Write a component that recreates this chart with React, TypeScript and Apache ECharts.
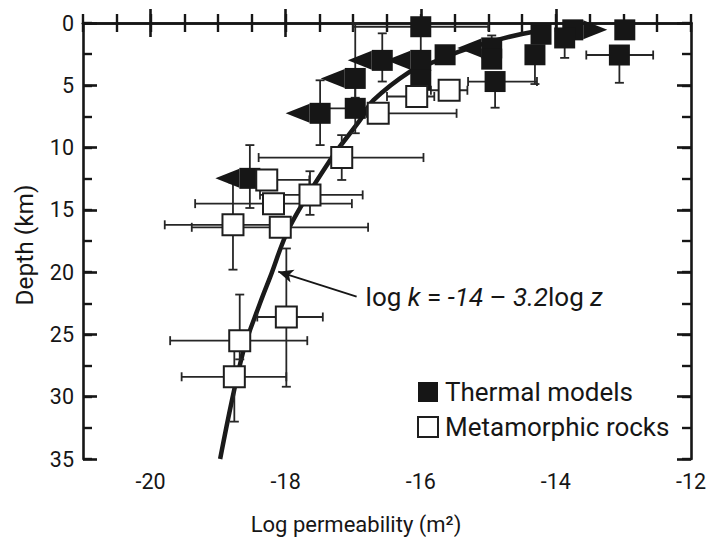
import React, { useEffect, useRef } from "react";
import * as echarts from "echarts";

// ---- data (log permeability [m^2], depth [km]) ----
const thermalPoints: [number, number][] = [
  [-16.0, 0.3],
  [-16.0, 3.0],
  [-16.57, 3.0],
  [-16.97, 4.45],
  [-17.49, 7.25],
  [-16.97, 6.85],
  [-16.0, 4.6],
  [-15.64, 2.55],
  [-14.95, 2.0],
  [-14.95, 2.9],
  [-14.9, 4.7],
  [-14.31, 2.55],
  [-14.22, 0.9],
  [-13.75, 0.55],
  [-13.87, 1.2],
  [-12.98, 0.55],
  [-13.06, 2.57],
  [-18.53, 12.47],
];
const thermalXErr: ([number, number] | null)[] = [
  [-17.0, -15.0], null, null, null, null, [-17.45, -16.7], null, null, null, null,
  [-15.3, -14.28], null, null, null, null, null, [-13.55, -12.56], null,
];
const thermalYErr: ([number, number] | null)[] = [
  null, [0.3, 3.0], [0.83, 4.7], [0.0, 6.0], [4.6, 9.8], [4.45, 8.85], null, null, [1.0, 2.9], null,
  [4.7, 6.8], [2.55, 4.9], null, null, [1.2, 2.8], null, [2.57, 4.8], [9.8, 14.85],
];
// "L" = upper-bound arrow (points left), "R" = lower-bound arrow (points right)
const thermalArrow: string[] = [
  "", "L", "L", "L", "L", "", "", "", "L", "", "", "", "", "R", "", "", "", "L",
];

const metaPoints: [number, number][] = [
  [-16.06, 5.9],
  [-15.58, 5.4],
  [-16.63, 7.25],
  [-17.17, 10.8],
  [-18.28, 12.6],
  [-17.64, 13.8],
  [-18.18, 14.5],
  [-18.78, 16.2],
  [-18.08, 16.4],
  [-17.99, 23.6],
  [-18.68, 25.5],
  [-18.76, 28.4],
];
const metaXErr: ([number, number] | null)[] = [
  [-16.5, -15.8], [-15.85, -15.31], [-16.8, -15.47], [-18.4, -15.96], [-18.6, -17.65],
  [-18.38, -16.86], [-19.34, -17.02], [-19.79, -18.2], [-19.39, -16.78], [-18.42, -17.45],
  [-19.71, -17.68], [-19.54, -17.99],
];
const metaYErr: ([number, number] | null)[] = [
  [5.2, 6.6], [4.8, 6.0], null, [9.0, 12.6], null, [11.9, 15.4], null, [12.8, 19.8],
  null, [18.1, 29.2], [21.8, 27.0], [25.5, 32.0],
];

// fitted curve log k = -14 - 3.2 log z
const curvePoints: [number, number][] = [
  [-14.1, 0.6], [-14.33, 0.7], [-14.78, 1.23], [-15.37, 2.17], [-15.86, 3.24], [-16.16, 3.9],
  [-16.7, 6.2], [-16.9, 7.8], [-17.34, 11.0], [-17.94, 16.35], [-18.23, 20.4], [-18.38, 22.5],
  [-18.63, 26.4], [-18.97, 35],
];

const annotationTail: [number, number] = [-16.95, 21.97];
const annotationHead: [number, number] = [-18.11, 19.96];

const xMajorTicks = [-20, -18, -16, -14];
const xTickLabels = [-20, -18, -16, -14, -12];

const FONT = "Roboto";
const INK = "#161616";

function errorRenderer(xErr: ([number, number] | null)[], yErr: ([number, number] | null)[]) {
  return (params: any, api: any) => {
    const i = params.dataIndex;
    const x = api.value(0);
    const y = api.value(1);
    const style = { stroke: "#262626", lineWidth: 1.8 };
    const cap = 4.5;
    const children: any[] = [];
    const xe = xErr[i];
    if (xe) {
      const a = api.coord([xe[0], y]);
      const b = api.coord([xe[1], y]);
      children.push({ type: "line", shape: { x1: a[0], y1: a[1], x2: b[0], y2: b[1] }, style });
      children.push({ type: "line", shape: { x1: a[0], y1: a[1] - cap, x2: a[0], y2: a[1] + cap }, style });
      children.push({ type: "line", shape: { x1: b[0], y1: b[1] - cap, x2: b[0], y2: b[1] + cap }, style });
    }
    const ye = yErr[i];
    if (ye) {
      const a = api.coord([x, ye[0]]);
      const b = api.coord([x, ye[1]]);
      children.push({ type: "line", shape: { x1: a[0], y1: a[1], x2: b[0], y2: b[1] }, style });
      children.push({ type: "line", shape: { x1: a[0] - cap, y1: a[1], x2: a[0] + cap, y2: a[1] }, style });
      children.push({ type: "line", shape: { x1: b[0] - cap, y1: b[1], x2: b[0] + cap, y2: b[1] }, style });
    }
    return { type: "group", children };
  };
}

export default function App() {
  const ref = useRef<HTMLDivElement>(null);
  useEffect(() => {
    if (!ref.current) return;
    const chart = echarts.init(ref.current, undefined, { renderer: "svg" });
    const frameLine = { show: true, lineStyle: { color: INK, width: 2.6 } };
    const longTick = { show: true, inside: true, length: 14, lineStyle: { color: INK, width: 2.6 } };
    const shortTick = { show: true, inside: true, length: 9, lineStyle: { color: INK, width: 2.4 } };
    const xBase = { type: "value", min: -21, max: -12, splitLine: { show: false }, gridIndex: 0 };
    const yBase = { type: "value", min: 0, max: 35, inverse: true, splitLine: { show: false }, gridIndex: 0 };

    const option: any = {
      animation: false,
      grid: { left: 83, top: 23, width: 608, height: 436, containLabel: false },
      xAxis: [
        {
          ...xBase, position: "bottom", axisLine: frameLine,
          axisTick: { ...longTick, customValues: xMajorTicks },
          axisLabel: { customValues: xTickLabels, color: INK, fontFamily: FONT, fontSize: 21.5, margin: 11 },
        },
        { ...xBase, position: "bottom", interval: 0.5, axisLine: { show: false }, axisTick: shortTick, axisLabel: { show: false } },
        {
          ...xBase, position: "top", axisLine: frameLine,
          axisTick: { ...longTick, customValues: xMajorTicks }, axisLabel: { show: false },
        },
        { ...xBase, position: "top", interval: 0.5, axisLine: { show: false }, axisTick: shortTick, axisLabel: { show: false } },
      ],
      yAxis: [
        {
          ...yBase, position: "left", interval: 5, axisLine: frameLine, axisTick: longTick,
          axisLabel: { color: INK, fontFamily: FONT, fontSize: 21.5, margin: 9 },
        },
        { ...yBase, position: "left", interval: 2.5, axisLine: { show: false }, axisTick: shortTick, axisLabel: { show: false } },
        { ...yBase, position: "right", interval: 5, axisLine: frameLine, axisTick: longTick, axisLabel: { show: false } },
        { ...yBase, position: "right", interval: 2.5, axisLine: { show: false }, axisTick: shortTick, axisLabel: { show: false } },
      ],
      legend: {
        data: [
          { name: "Thermal models", icon: "rect" },
          { name: "Metamorphic rocks", icon: "rect" },
        ],
        orient: "vertical",
        left: 417,
        top: 379,
        itemWidth: 20,
        itemHeight: 20,
        itemGap: 9,
        padding: 0,
        selectedMode: false,
        textStyle: { color: INK, fontFamily: FONT, fontSize: 26, padding: [0, 0, 0, 2] },
      },
      graphic: [
        {
          type: "text", x: 356, y: 524,
          style: { text: "Log permeability (m²)", fill: INK, font: `22px ${FONT}`, textAlign: "center", textVerticalAlign: "middle" },
        },
        {
          type: "text", x: 24, y: 245, rotation: Math.PI / 2,
          style: { text: "Depth (km)", fill: INK, font: `24.5px ${FONT}`, textAlign: "center", textVerticalAlign: "middle" },
        },
      ],
      series: [
        {
          type: "line", data: curvePoints, smooth: 0.35, showSymbol: false, z: 1,
          lineStyle: { color: "#1a1a1a", width: 4.5 }, silent: true,
        },
        {
          type: "custom", data: thermalPoints, encode: { x: 0, y: 1 }, z: 2, silent: true,
          renderItem: errorRenderer(thermalXErr, thermalYErr),
        },
        {
          type: "custom", data: metaPoints, encode: { x: 0, y: 1 }, z: 2, silent: true,
          renderItem: errorRenderer(metaXErr, metaYErr),
        },
        {
          type: "custom", data: thermalPoints, encode: { x: 0, y: 1 }, z: 3, silent: true,
          renderItem: (params: any, api: any) => {
            const dir = thermalArrow[params.dataIndex];
            if (!dir) return { type: "group", children: [] };
            const c = api.coord([api.value(0), api.value(1)]);
            const h = 10.5, len = 24, hh = 9.5;
            const pts = dir === "L"
              ? [[c[0] - h, c[1] - hh], [c[0] - h, c[1] + hh], [c[0] - h - len, c[1]]]
              : [[c[0] + h, c[1] - hh], [c[0] + h, c[1] + hh], [c[0] + h + len, c[1]]];
            return { type: "polygon", shape: { points: pts }, style: { fill: "#161616" } };
          },
        },
        {
          name: "Thermal models", type: "scatter", data: thermalPoints, symbol: "rect", symbolSize: 21, z: 3,
          itemStyle: { color: "#161616", opacity: 1 },
        },
        {
          name: "Metamorphic rocks", type: "scatter", data: metaPoints, symbol: "rect", symbolSize: 21, z: 4,
          itemStyle: { color: "#ffffff", borderColor: "#1e1e1e", borderWidth: 2, opacity: 1 },
        },
        {
          type: "scatter", data: [annotationTail], symbolSize: 0, z: 5, silent: true,
          itemStyle: { opacity: 1 },
          label: {
            show: true, position: "right", distance: 9,
            formatter: "{n|log }{i|k}{n| = }{i|-14}{n| – }{i|3.2}{n|log }{i|z}",
            rich: {
              n: { fontFamily: FONT, fontSize: 26, color: INK },
              i: { fontFamily: FONT, fontSize: 26, color: INK, fontStyle: "italic" },
            },
          },
          markLine: {
            silent: true, animation: false,
            symbol: ["none", "arrow"], symbolSize: [10, 15],
            lineStyle: { color: INK, width: 1.8, type: "solid" },
            label: { show: false },
            data: [[{ coord: annotationTail }, { coord: annotationHead }]],
          },
        },
      ],
    };
    chart.setOption(option);
    return () => chart.dispose();
  }, []);
  return <div ref={ref} style={{ position: "absolute", left: 0, top: 0, width: 712, height: 537 }} />;
}
